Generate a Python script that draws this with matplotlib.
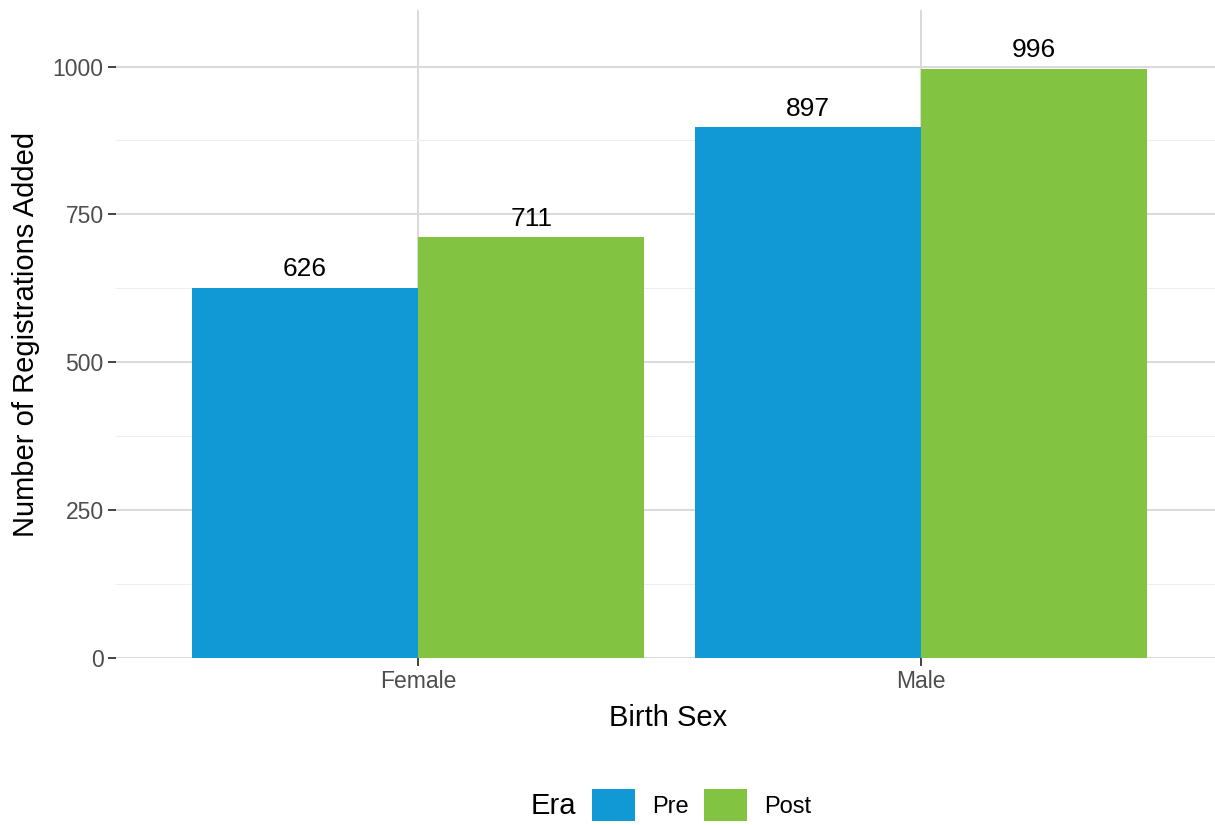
import numpy as np
import matplotlib
matplotlib.use("Agg")
import matplotlib.pyplot as plt
from matplotlib.patches import Patch

plt.rcParams['font.family'] = ['Liberation Sans', 'DejaVu Sans']

# donnees
sexes = ["Female", "Male"]
eras = ["Pre", "Post"]
pre = [626, 897]
post = [711, 996]
couleurs = {"Pre": "#1199D6", "Post": "#82C341"}

W, H = 1215, 825
fig = plt.figure(figsize=(W / 100, H / 100), dpi=100)
# panneau : x 116..1215, y 10..658 (pixels)
ax = fig.add_axes([116 / W, 1 - 658 / H, (1215 - 116) / W, (658 - 10) / H])

x = np.arange(1, len(sexes) + 1)
largeur = 0.45
for i, (era, vals) in enumerate(zip(eras, [pre, post])):
    pos = x + (i - 0.5) * largeur
    bars = ax.bar(pos, vals, width=largeur, color=couleurs[era], zorder=3)
    for b, v in zip(bars, vals):
        ax.annotate(str(v), (b.get_x() + b.get_width() / 2, v),
                    xytext=(0, 5), textcoords="offset points",
                    ha="center", va="bottom", fontsize=19, color="black", zorder=4)

ax.set_xlim(1 - 302 / 503, 2 + 294 / 503)
ax.set_ylim(0, 996 * 1.1)
ax.set_xticks(x)
ax.set_xticklabels(sexes)
ax.set_yticks([0, 250, 500, 750, 1000])
ax.set_yticks([125, 375, 625, 875], minor=True)

ax.grid(which="major", color="#D9D9D9", linewidth=1.4, zorder=0)
ax.grid(which="minor", axis="y", color="#EEEEEE", linewidth=0.8, zorder=0)
for s in ax.spines.values():
    s.set_visible(False)
ax.tick_params(axis="both", which="major", length=6, width=1.3, color="#333333",
               labelsize=16.5, labelcolor="#4D4D4D", pad=3)
ax.tick_params(axis="both", which="minor", length=0)

ax.set_xlabel("Birth Sex", fontsize=21)
ax.set_ylabel("Number of Registrations Added", fontsize=21)
ax.xaxis.set_label_coords(0.5 - 0.5 + (668 - 116) / 1099, -(704 - 658) / 648)
ax.yaxis.set_label_coords(-(116 - 40) / 1099, 0.5)

# legende en bas
fig.text(553 / W, 1 - 806 / H, "Era", fontsize=21, ha="center", va="center")
handles = [Patch(facecolor=couleurs[e], edgecolor="none") for e in eras]
fig.legend(handles, eras, loc="center left", bbox_to_anchor=(592 / W, 1 - 805 / H),
           ncol=2, frameon=False, fontsize=17, handlelength=1.82, handleheight=1.7,
           handletextpad=0.72, columnspacing=0.64, borderpad=0, borderaxespad=0)

fig.savefig("out.png", dpi=100)
